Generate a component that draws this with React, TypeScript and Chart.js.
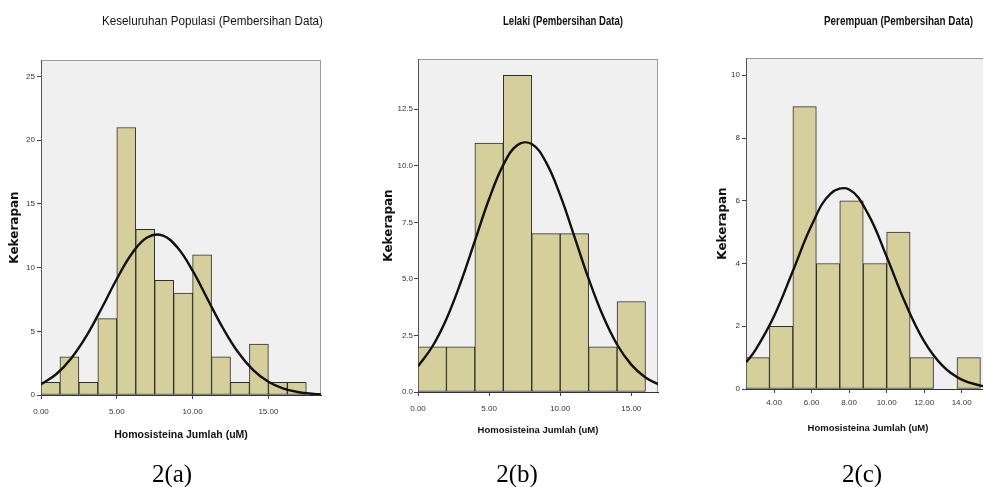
import React, { useEffect, useLayoutEffect, useRef } from "react";
import { Chart, registerables } from "chart.js";

Chart.register(...registerables);

// ---------- DATA ----------
// Panel (a) Keseluruhan Populasi
const binStartsA = [0, 1.25, 2.5, 3.75, 5, 6.25, 7.5, 8.75, 10, 11.25, 12.5, 13.75, 15, 16.25];
const countsA = [1, 3, 1, 6, 21, 13, 9, 8, 11, 3, 1, 4, 1, 1];
const binWidthA = 1.25;
const curveXA = [0, 1, 2, 3, 4, 5, 6, 7, 8, 9, 10, 11, 12, 13, 14, 15, 16, 17, 18, 18.5];
const curveYA = [0.84, 1.63, 2.89, 4.64, 6.81, 9.11, 11.11, 12.36, 12.53, 11.58, 9.76, 7.5, 5.26, 3.36, 1.96, 1.04, 0.5, 0.22, 0.09, 0.05];
const xTicksA = [0, 5, 10, 15];
const yTicksA = [0, 5, 10, 15, 20, 25];

// Panel (b) Lelaki
const binStartsB = [0, 2, 4, 6, 8, 10, 12, 14];
const countsB = [2, 2, 11, 14, 7, 7, 2, 4];
const binWidthB = 2;
const curveXB = [0, 1, 2, 3, 4, 5, 6, 7, 8, 9, 10, 11, 12, 13, 14, 15, 16, 17];
const curveYB = [1.14, 2.0, 3.23, 4.84, 6.68, 8.53, 10.04, 10.92, 10.96, 10.16, 8.7, 6.87, 5.01, 3.38, 2.1, 1.21, 0.64, 0.31];
const xTicksB = [0, 5, 10, 15];
const yTicksB = [0, 2.5, 5, 7.5, 10, 12.5];

// Panel (c) Perempuan
const binStartsC = [2.5, 3.75, 5, 6.25, 7.5, 8.75, 10, 11.25, 13.75];
const countsC = [1, 2, 9, 4, 6, 4, 5, 1, 1];
const binWidthC = 1.25;
const curveXC = [2.5, 3, 4, 5, 6, 7, 8, 9, 10, 11, 12, 13, 14, 15, 15.5];
const curveYC = [0.85, 1.24, 2.33, 3.76, 5.22, 6.22, 6.36, 5.59, 4.22, 2.73, 1.52, 0.73, 0.3, 0.11, 0.06];
const xTicksC = [4, 6, 8, 10, 12, 14];
const yTicksC = [0, 2, 4, 6, 8, 10];

const chartTitles = [
  "Keseluruhan Populasi (Pembersihan Data)",
  "Lelaki (Pembersihan Data)",
  "Perempuan (Pembersihan Data)",
];
const captions = ["2(a)", "2(b)", "2(c)"];
const xAxisTitle = "Homosisteina Jumlah (uM)";
const yAxisTitle = "Kekerapan";

// ---------- LAYOUT ----------
const CW = 1000;
const CH = 487;
const SANS = "'Liberation Sans', Arial, sans-serif";

type Panel = {
  binStarts: number[];
  counts: number[];
  binWidth: number;
  curveX: number[];
  curveY: number[];
  xTicks: number[];
  yTicks: number[];
  xMin: number;
  xMax: number;
  yMax: number;
  xDec: number;
  yDec: number;
  left: number;
  right: number;
  top: number;
  bottom: number;
  padLeft: number;
  yTitleX: number;
  xTitleY: number;
  xTitleSize: number;
  xTickPad: number;
  yTickPad: number;
  title: string;
  titleLeft: number;
  titleWidth: number;
  titleBold: boolean;
  caption: string;
  captionCx: number;
};

const panels: Panel[] = [
  {
    binStarts: binStartsA, counts: countsA, binWidth: binWidthA, curveX: curveXA, curveY: curveYA,
    xTicks: xTicksA, yTicks: yTicksA, xMin: 0, xMax: 18.47, yMax: 26.3, xDec: 2, yDec: 0,
    left: 41, right: 321, top: 60, bottom: 395, padLeft: 0, yTitleX: 15, xTitleY: 435, xTitleSize: 10.5,
    xTickPad: 8, yTickPad: 2, title: chartTitles[0], titleLeft: 102, titleWidth: 221, titleBold: false,
    caption: captions[0], captionCx: 172,
  },
  {
    binStarts: binStartsB, counts: countsB, binWidth: binWidthB, curveX: curveXB, curveY: curveYB,
    xTicks: xTicksB, yTicks: yTicksB, xMin: 0, xMax: 16.88, yMax: 14.72, xDec: 2, yDec: 1,
    left: 418, right: 658, top: 59, bottom: 392, padLeft: 370, yTitleX: 389, xTitleY: 430, xTitleSize: 9.5,
    xTickPad: 8, yTickPad: 1, title: chartTitles[1], titleLeft: 503, titleWidth: 120, titleBold: true,
    caption: captions[1], captionCx: 517,
  },
  {
    binStarts: binStartsC, counts: countsC, binWidth: binWidthC, curveX: curveXC, curveY: curveYC,
    xTicks: xTicksC, yTicks: yTicksC, xMin: 2.5, xMax: 15.51, yMax: 10.55, xDec: 2, yDec: 0,
    left: 746, right: 990, top: 58, bottom: 389, padLeft: 700, yTitleX: 723, xTitleY: 428, xTitleSize: 9.5,
    xTickPad: 5, yTickPad: 2, title: chartTitles[2], titleLeft: 824, titleWidth: 149, titleBold: true,
    caption: captions[2], captionCx: 862,
  },
];

const framePlugin = {
  id: "spssFrame",
  beforeDraw(chart: any) {
    const { ctx, chartArea: a } = chart;
    ctx.save();
    ctx.fillStyle = "#F0F0F0";
    ctx.fillRect(a.left, a.top, a.right - a.left, a.bottom - a.top);
    ctx.strokeStyle = "#9a9a9a";
    ctx.lineWidth = 1;
    ctx.strokeRect(a.left + 0.5, a.top + 0.5, a.right - a.left - 1, a.bottom - a.top);
    ctx.restore();
  },
};

function HistPanel({ p }: { p: Panel }) {
  const ref = useRef<HTMLCanvasElement>(null);
  useEffect(() => {
    if (!ref.current) return;
    const yTitleSize = 12;
    const yTitleLH = yTitleSize * 1.2;
    const xTitleLH = p.xTitleSize * 1.2;
    const tickLen = 4;
    const bars = p.binStarts.map((s, i) => ({ x: s + p.binWidth / 2, y: p.counts[i] }));
    const curve = p.curveX.map((x, i) => ({ x, y: p.curveY[i] }));
    const chart = new Chart(ref.current, {
      type: "bar",
      data: {
        datasets: [
          {
            type: "line",
            data: curve,
            borderColor: "#111111",
            borderWidth: 2.4,
            pointRadius: 0,
            tension: 0.4,
            fill: false,
            order: 0,
            clip: 0,
          } as any,
          {
            type: "bar",
            data: bars,
            backgroundColor: "#D4CF9B",
            borderColor: "#2e2e2e",
            borderWidth: 1,
            borderSkipped: false,
            barPercentage: 1,
            categoryPercentage: 1,
            order: 1,
          } as any,
        ],
      },
      options: {
        responsive: false,
        animation: false,
        devicePixelRatio: 1,
        events: [],
        layout: {
          padding: { left: p.padLeft, right: CW - p.right, top: p.top, bottom: 0 },
        },
        plugins: {
          legend: { display: false },
          tooltip: { enabled: false },
          title: { display: false },
        },
        scales: {
          x: {
            type: "linear",
            offset: false,
            min: p.xMin,
            max: p.xMax,
            afterBuildTicks: (s: any) => {
              s.ticks = p.xTicks.map((v) => ({ value: v }));
            },
            afterFit: (s: any) => {
              s.height = CH - p.bottom;
            },
            ticks: {
              autoSkip: false,
              maxRotation: 0,
              padding: p.xTickPad,
              color: "#333333",
              font: { family: SANS, size: 8 },
              callback: (v: any) => Number(v).toFixed(p.xDec),
            },
            grid: { drawOnChartArea: false, drawTicks: true, tickLength: tickLen, color: "#444444", offset: false },
            border: { display: true, color: "#333333", width: 1 },
            title: {
              display: true,
              text: xAxisTitle,
              color: "#111111",
              font: { family: SANS, size: p.xTitleSize, weight: "bold", lineHeight: 1.2 },
              padding: { top: 0, bottom: CH - p.xTitleY - xTitleLH / 2 },
            },
          },
          y: {
            type: "linear",
            min: 0,
            max: p.yMax,
            afterBuildTicks: (s: any) => {
              s.ticks = p.yTicks.map((v) => ({ value: v }));
            },
            afterFit: (s: any) => {
              s.width = p.left - p.padLeft;
            },
            ticks: {
              autoSkip: false,
              padding: p.yTickPad,
              color: "#333333",
              font: { family: SANS, size: 8 },
              callback: (v: any) => Number(v).toFixed(p.yDec),
            },
            grid: { drawOnChartArea: false, drawTicks: true, tickLength: tickLen, color: "#444444" },
            border: { display: true, color: "#555555", width: 1 },
            title: {
              display: true,
              text: yAxisTitle,
              color: "#111111",
              font: { family: "'DejaVu Sans', sans-serif", size: yTitleSize, weight: "bold", lineHeight: 1.2 },
              padding: { top: p.yTitleX - p.padLeft - yTitleLH / 2, bottom: 0 },
            },
          },
        },
      },
      plugins: [framePlugin],
    } as any);
    return () => chart.destroy();
  }, [p]);
  return (
    <canvas
      ref={ref}
      width={CW}
      height={CH}
      style={{ position: "absolute", left: 0, top: 0, width: CW, height: CH }}
    />
  );
}

function CondensedTitle({ p }: { p: Panel }) {
  const ref = useRef<HTMLDivElement>(null);
  useLayoutEffect(() => {
    const el = ref.current;
    if (!el) return;
    el.style.transform = "none";
    const w = el.getBoundingClientRect().width;
    if (w > 0) el.style.transform = `scaleX(${p.titleWidth / w})`;
  }, [p]);
  return (
    <div
      ref={ref}
      style={{
        position: "absolute",
        left: p.titleLeft,
        top: 12,
        transformOrigin: "0 50%",
        whiteSpace: "nowrap",
        fontFamily: SANS,
        fontWeight: p.titleBold ? 700 : 400,
        fontSize: 13.5,
        lineHeight: "17px",
        color: "#111111",
      }}
    >
      {p.title}
    </div>
  );
}

export default function App() {
  return (
    <div
      style={{
        position: "fixed",
        left: 0,
        top: 0,
        width: 983,
        height: 487,
        overflow: "hidden",
        background: "#ffffff",
      }}
    >
      {panels.map((p, i) => (
        <HistPanel key={i} p={p} />
      ))}
      {panels.map((p, i) => (
        <CondensedTitle key={"t" + i} p={p} />
      ))}
      {panels.map((p, i) => (
        <div
          key={"c" + i}
          style={{
            position: "absolute",
            left: p.captionCx,
            top: 462,
            transform: "translateX(-50%)",
            whiteSpace: "nowrap",
            fontFamily: "'Liberation Serif', 'Times New Roman', serif",
            fontSize: 25,
            lineHeight: "24px",
            color: "#000000",
          }}
        >
          {p.caption}
        </div>
      ))}
    </div>
  );
}
